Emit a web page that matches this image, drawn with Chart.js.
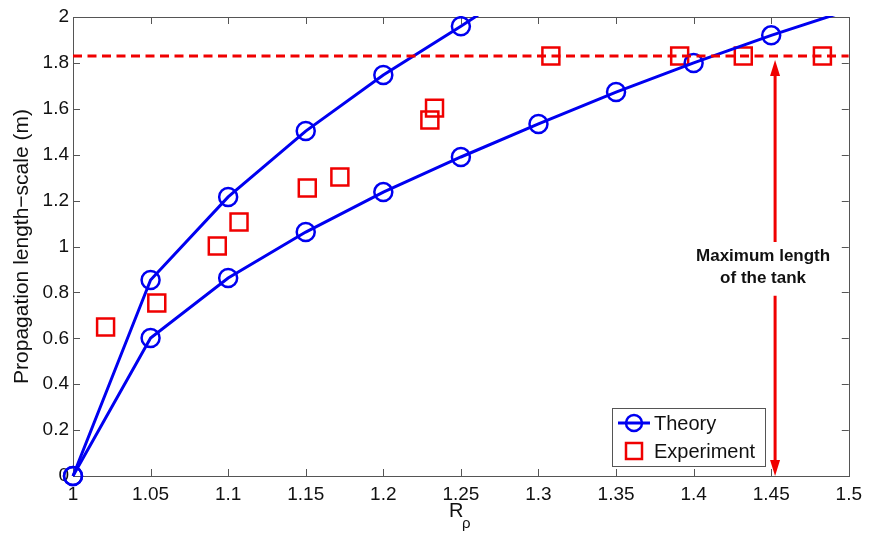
<!DOCTYPE html>
<html>
<head>
<meta charset="utf-8">
<script src="https://cdn.jsdelivr.net/npm/chart.js@4.4.1/dist/chart.umd.min.js"></script>
<style>
  html, body { margin: 0; padding: 0; background: #fff; }
  #wrap { width: 869px; height: 535px; }
</style>
</head>
<body>
<div id="wrap"><canvas id="c" width="869" height="535"></canvas></div>
<script>
// data
const theoryUpperX = [1, 1.05, 1.1, 1.15, 1.2, 1.25, 1.3];
const theoryUpperY = [0, 0.854, 1.216, 1.503, 1.747, 1.96, 2.18];
const theoryLowerX = [1, 1.05, 1.1, 1.15, 1.2, 1.25, 1.3, 1.35, 1.4, 1.45, 1.5];
const theoryLowerY = [0, 0.601, 0.863, 1.063, 1.237, 1.39, 1.534, 1.673, 1.8, 1.92, 2.03];
const experimentX = [1.021, 1.054, 1.093, 1.107, 1.151, 1.172, 1.230, 1.233, 1.308, 1.391, 1.432, 1.483];
const experimentY = [0.649, 0.754, 1.002, 1.107, 1.255, 1.303, 1.551, 1.603, 1.83, 1.83, 1.83, 1.83];
const tankLength = 1.83;
const arrowX = 1.4525;
const xTicks = [1, 1.05, 1.1, 1.15, 1.2, 1.25, 1.3, 1.35, 1.4, 1.45, 1.5];
const yTicks = [0, 0.2, 0.4, 0.6, 0.8, 1, 1.2, 1.4, 1.6, 1.8, 2];

const BLUE = '#0000f0';
const RED = '#f00000';
const FONT = 'Liberation Sans, Arial, sans-serif';

const pts = (xs, ys) => xs.map((x, i) => ({ x: x, y: ys[i] }));
// the last point of each theory curve only carries the line up to the frame
const radii = (n) => Array.from({ length: n }, (_, i) => i === n - 1 ? 0 : 9);

const frameTicks = {
  id: 'frameTicks',
  beforeDatasetsDraw(chart) {
    const { ctx, chartArea: a, scales: { x, y } } = chart;
    ctx.save();
    ctx.strokeStyle = '#555';
    ctx.lineWidth = 1;
    ctx.beginPath();
    x.ticks.forEach(t => {
      const px = Math.round(x.getPixelForValue(t.value)) + 0.5;
      ctx.moveTo(px, a.bottom); ctx.lineTo(px, a.bottom - 7);
      ctx.moveTo(px, a.top); ctx.lineTo(px, a.top + 7);
    });
    y.ticks.forEach(t => {
      const py = Math.round(y.getPixelForValue(t.value)) + 0.5;
      ctx.moveTo(a.left, py); ctx.lineTo(a.left + 7, py);
      ctx.moveTo(a.right, py); ctx.lineTo(a.right - 7, py);
    });
    ctx.stroke();
    ctx.strokeRect(Math.round(a.left) + 0.5, Math.round(a.top) + 0.5,
      Math.round(a.right - a.left), Math.round(a.bottom - a.top));
    ctx.restore();
  }
};

const arrowHead = (ctx, x, tip, dir) => {
  ctx.beginPath();
  ctx.moveTo(x, tip);
  ctx.lineTo(x - 5, tip + dir * 16);
  ctx.lineTo(x + 5, tip + dir * 16);
  ctx.closePath();
  ctx.fill();
};

const tankArrow = {
  id: 'tankArrow',
  afterDatasetsDraw(chart) {
    const { ctx, scales: { x, y } } = chart;
    const px = x.getPixelForValue(arrowX);
    const top = y.getPixelForValue(tankLength) + 4;
    const bottom = y.getPixelForValue(0);
    const gapTop = y.getPixelForValue(1.02);
    const gapBottom = y.getPixelForValue(0.785);
    ctx.save();
    ctx.strokeStyle = RED;
    ctx.fillStyle = RED;
    ctx.lineWidth = 3;
    ctx.beginPath();
    ctx.moveTo(px, top + 10); ctx.lineTo(px, gapTop);
    ctx.moveTo(px, gapBottom); ctx.lineTo(px, bottom - 10);
    ctx.stroke();
    arrowHead(ctx, px, top, 1);
    arrowHead(ctx, px, bottom, -1);
    ctx.fillStyle = '#111';
    ctx.font = 'bold 17px ' + FONT;
    ctx.textAlign = 'center';
    ctx.textBaseline = 'middle';
    ctx.fillText('Maximum length', px - 12, gapTop + 14);
    ctx.fillText('of the tank', px - 12, gapTop + 36);
    ctx.restore();
  }
};

const boxLegend = {
  id: 'boxLegend',
  afterDraw(chart) {
    const { ctx } = chart;
    const bx = 612, by = 408, bw = 153, bh = 58;
    ctx.save();
    ctx.fillStyle = '#fff';
    ctx.fillRect(bx, by, bw, bh);
    ctx.strokeStyle = '#555';
    ctx.lineWidth = 1;
    ctx.strokeRect(bx + 0.5, by + 0.5, bw, bh);
    // theory entry
    const r1 = by + 15;
    ctx.strokeStyle = BLUE;
    ctx.lineWidth = 3;
    ctx.beginPath();
    ctx.moveTo(bx + 6, r1); ctx.lineTo(bx + 38, r1);
    ctx.stroke();
    ctx.lineWidth = 2.5;
    ctx.beginPath();
    ctx.arc(bx + 22, r1, 8, 0, Math.PI * 2);
    ctx.stroke();
    // experiment entry
    const r2 = by + 43;
    ctx.strokeStyle = RED;
    ctx.lineWidth = 2.5;
    ctx.strokeRect(bx + 14, r2 - 8, 16, 16);
    ctx.fillStyle = '#111';
    ctx.font = '20px ' + FONT;
    ctx.textBaseline = 'middle';
    ctx.fillText('Theory', bx + 42, r1 + 1);
    ctx.fillText('Experiment', bx + 42, r2 + 1);
    ctx.restore();
  }
};

const xTitle = {
  id: 'xTitle',
  afterDraw(chart) {
    const { ctx, chartArea: a } = chart;
    const cx = (a.left + a.right) / 2;
    ctx.save();
    ctx.fillStyle = '#111';
    ctx.textBaseline = 'alphabetic';
    ctx.font = '20px ' + FONT;
    ctx.fillText('R', cx - 12, 517);
    ctx.font = '15px ' + FONT;
    ctx.fillText('ρ', cx + 1, 528);
    ctx.restore();
  }
};

const fmt = v => String(Number(v.toFixed(2)));

new Chart(document.getElementById('c'), {
  type: 'scatter',
  data: {
    datasets: [
      {
        label: 'Tank',
        data: [{ x: 1, y: tankLength }, { x: 1.5, y: tankLength }],
        showLine: true,
        borderColor: RED,
        borderWidth: 3,
        borderDash: [9, 5.5],
        pointRadius: 0,
        clip: 0
      },
      {
        label: 'Theory',
        data: pts(theoryUpperX, theoryUpperY),
        showLine: true,
        borderColor: BLUE,
        borderWidth: 3,
        pointStyle: 'circle',
        pointRadius: radii(theoryUpperX.length),
        pointBorderWidth: 2.5,
        pointBorderColor: BLUE,
        pointBackgroundColor: 'rgba(0,0,0,0)',
        clip: { left: 14, bottom: 14, top: 1, right: 0 }
      },
      {
        label: 'Theory',
        data: pts(theoryLowerX, theoryLowerY),
        showLine: true,
        borderColor: BLUE,
        borderWidth: 3,
        pointStyle: 'circle',
        pointRadius: radii(theoryLowerX.length),
        pointBorderWidth: 2.5,
        pointBorderColor: BLUE,
        pointBackgroundColor: 'rgba(0,0,0,0)',
        clip: { left: 14, bottom: 14, top: 1, right: 0 }
      },
      {
        label: 'Experiment',
        data: pts(experimentX, experimentY),
        showLine: false,
        pointStyle: 'rect',
        pointRadius: 12,
        pointBorderWidth: 2.5,
        pointBorderColor: RED,
        pointBackgroundColor: 'rgba(0,0,0,0)',
        clip: 12
      }
    ]
  },
  options: {
    responsive: false,
    animation: false,
    events: [],
    layout: { padding: { left: 0, top: 17, right: 19, bottom: 0 } },
    plugins: { legend: { display: false }, tooltip: { enabled: false } },
    scales: {
      x: {
        type: 'linear',
        min: 1, max: 1.5,
        afterBuildTicks: s => { s.ticks = xTicks.map(v => ({ value: v })); },
        afterFit: s => { s.height = 59; },
        grid: { display: false, drawTicks: false },
        border: { display: false },
        ticks: { callback: fmt, color: '#111', padding: 7, maxRotation: 0,
                 font: { family: FONT, size: 19 } }
      },
      y: {
        type: 'linear',
        min: 0, max: 2,
        afterBuildTicks: s => { s.ticks = yTicks.map(v => ({ value: v })); },
        afterFit: s => { s.width = 73; },
        grid: { display: false, drawTicks: false },
        border: { display: false },
        ticks: { callback: fmt, color: '#111', padding: 4,
                 font: { family: FONT, size: 19 } },
        title: { display: true, text: 'Propagation length−scale (m)', color: '#111',
                 padding: { top: 10, bottom: 0 },
                 font: { family: FONT, size: 21, lineHeight: 1.2 } }
      }
    }
  },
  plugins: [frameTicks, tankArrow, boxLegend, xTitle]
});
</script>
</body>
</html>
